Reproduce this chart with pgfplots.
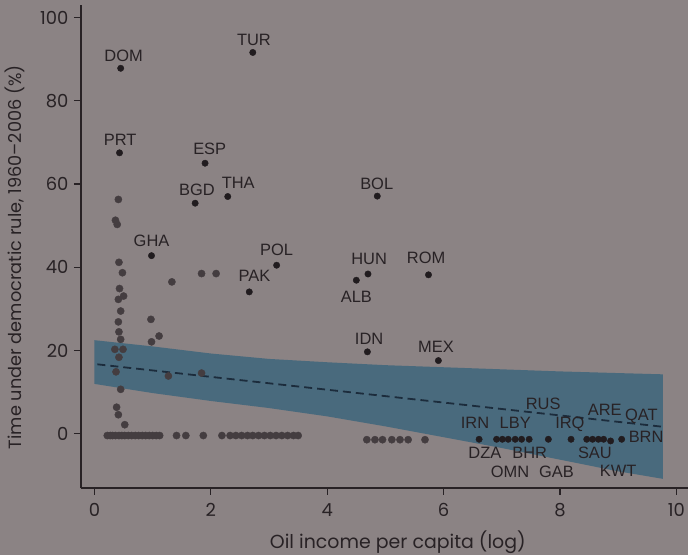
\documentclass[border=0pt]{standalone}
\usepackage{fontspec}
\usepackage{pgfplots}
\pgfplotsset{compat=1.18}
\setmainfont{Poppins}
\newfontfamily\helv{Liberation Sans}
\definecolor{bg}{RGB}{139,131,132}
\definecolor{ink}{RGB}{40,34,37}
\definecolor{dot}{RGB}{33,28,31}
\definecolor{gdot}{RGB}{68,61,64}
\definecolor{band}{RGB}{62,102,124}
\definecolor{regline}{RGB}{28,44,60}
\begin{document}
\begin{tikzpicture}
\path[use as bounding box, fill=bg] (-81bp,-67bp) rectangle (607bp,488bp);
\begin{axis}[
  scale only axis, width=607bp, height=483bp, at={(0,0)}, anchor=south west,
  xmin=-0.232, xmax=10.2, ymin=-13, ymax=103,
  axis x line=bottom, axis y line=left,
  axis line style={-, ink, line width=1.3bp},
  tick align=outside, major tick length=7bp,
  tick style={ink, line width=1.1bp},
  xtick={0,2,...,10}, ytick={0,20,...,100},
  /pgf/number format/assume math mode=true,
  tick label style={font=\fontsize{18}{18}\selectfont, text=ink},
  xticklabel style={yshift=-5bp},
  yticklabel style={xshift=-2bp},
  xlabel={Oil income per capita (log)},
  ylabel={Time under democratic rule, 1960–2006 (\%)},
  label style={font=\fontsize{19}{19}\selectfont, text=ink},
  xlabel style={at={(axis description cs:0.522,-0.1118)}, anchor=center},
  ylabel style={font=\fontsize{17.8}{17.8}\selectfont, at={(axis description cs:-0.1087,0.478)}, anchor=center},
  clip=false,
]
% confidence band
\addplot[draw=none, fill=band, fill opacity=0.85] coordinates {
 (0,22.5) (1,21.0) (2,19.3) (3,18.0) (4,17.2) (5,16.5) (6,16.0) (7,15.5) (8,15.0) (9,14.6) (9.77,14.3)
 (9.77,-10.8) (9,-9.0) (8,-6.2) (7,-3.4) (6,-0.8) (5,1.8) (4,4.2) (3,6.2) (2,7.9) (1,9.8) (0,12.0)
} -- cycle;
% regression line
\addplot[regline, line width=1.8bp, dash pattern=on 8bp off 5bp] coordinates {(0.05,16.7) (9.77,1.7)};
% unlabeled gray points
\addplot[only marks, mark=*, mark size=3.6bp, gdot, mark options={draw=none, fill=gdot}] coordinates {
 (0.41,56.3) (0.36,51.3) (0.39,50.3) (0.42,41.2) (0.48,38.7) (1.84,38.5) (2.09,38.5) (1.33,36.5)
 (0.43,34.9) (0.41,32.3) (0.50,33.1) (0.45,29.5) (0.41,26.9) (0.42,24.5) (0.45,22.7) (0.35,20.3)
 (0.49,20.3) (0.42,18.4) (0.37,14.9) (0.45,10.7) (0.38,6.4) (0.41,4.6) (0.52,2.2) (0.97,27.5)
 (0.98,22.1) (1.11,23.5) (1.27,13.9) (1.84,14.6)
 (0.22,-0.4) (0.27,-0.4) (0.31,-0.4) (0.36,-0.4) (0.42,-0.4) (0.47,-0.4) (0.52,-0.4) (0.58,-0.4)
 (0.64,-0.4) (0.70,-0.4) (0.76,-0.4) (0.82,-0.4) (0.88,-0.4) (0.94,-0.4) (1.00,-0.4) (1.06,-0.4)
 (1.12,-0.4) (1.41,-0.4) (1.57,-0.4) (1.87,-0.4) (2.19,-0.4)
 (2.33,-0.4) (2.43,-0.4) (2.53,-0.4) (2.63,-0.4) (2.72,-0.4) (2.82,-0.4) (2.92,-0.4) (3.02,-0.4)
 (3.12,-0.4) (3.22,-0.4) (3.32,-0.4) (3.42,-0.4) (3.50,-0.4)
 (4.68,-1.4) (4.82,-1.4) (4.95,-1.4) (5.11,-1.4) (5.25,-1.4) (5.39,-1.4) (5.68,-1.4)
};
% dark labeled points
\addplot[only marks, mark=*, mark size=3.2bp, dot, mark options={draw=none, fill=dot}] coordinates {
 (2.72,91.6) (0.45,87.8) (0.43,67.5) (1.90,65.0) (1.73,55.4) (2.29,57.0) (0.98,42.8) (3.13,40.5)
 (2.66,34.1) (4.86,57.1) (4.70,38.4) (5.74,38.2) (4.50,36.9) (4.69,19.7) (5.91,17.6)
 (6.61,-1.3) (6.91,-1.3) (7.01,-1.3) (7.11,-1.3) (7.23,-1.3) (7.34,-1.3) (7.47,-1.3) (7.80,-1.3)
 (8.19,-1.3) (8.46,-1.3) (8.56,-1.3) (8.66,-1.3) (8.75,-1.3) (8.87,-1.7) (9.06,-1.3)
};
% labels
\begin{scope}[every node/.style={font=\helv\fontsize{16.5}{16.5}\selectfont, text=ink, inner sep=0pt}]
\node at (axis cs:2.74,94.7) {TUR};
\node at (axis cs:0.50,90.7) {DOM};
\node at (axis cs:0.44,70.5) {PRT};
\node at (axis cs:1.98,68.5) {ESP};
\node at (axis cs:1.76,58.5) {BGD};
\node at (axis cs:2.47,60.3) {THA};
\node at (axis cs:0.98,46.4) {GHA};
\node at (axis cs:3.13,44.3) {POL};
\node at (axis cs:2.75,37.9) {PAK};
\node at (axis cs:4.85,60.1) {BOL};
\node at (axis cs:4.72,42.1) {HUN};
\node at (axis cs:5.70,42.3) {ROM};
\node at (axis cs:4.50,32.9) {ALB};
\node at (axis cs:4.72,22.9) {IDN};
\node at (axis cs:5.87,20.8) {MEX};
\node at (axis cs:7.71,7.2) {RUS};
\node at (axis cs:6.54,2.7) {IRN};
\node at (axis cs:7.23,2.6) {LBY};
\node at (axis cs:8.17,2.2) {IRQ};
\node at (axis cs:8.77,5.8) {ARE};
\node at (axis cs:9.40,4.3) {QAT};
\node at (axis cs:9.48,-0.6) {BRN};
\node at (axis cs:6.71,-4.6) {DZA};
\node at (axis cs:7.48,-4.6) {BHR};
\node at (axis cs:8.60,-4.6) {SAU};
\node at (axis cs:7.14,-9.0) {OMN};
\node at (axis cs:7.94,-9.0) {GAB};
\node at (axis cs:9.00,-9.0) {KWT};
\end{scope}
\end{axis}
\end{tikzpicture}
\end{document}
